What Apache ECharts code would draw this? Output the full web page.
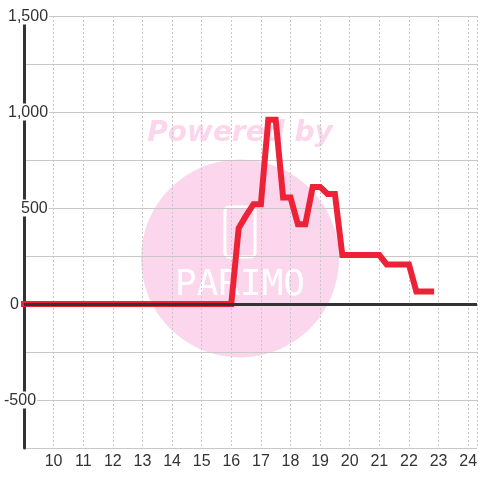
<!DOCTYPE html>
<html>
<head>
<meta charset="utf-8">
<script src="https://cdn.jsdelivr.net/npm/echarts@6/dist/echarts.min.js"></script>
<style>
html,body{margin:0;padding:0;background:#fff;}
#chart{width:480px;height:480px;}
</style>
</head>
<body>
<div id="chart"></div>
<script>
// Hours (x) and values (y)
const hours = [9, 9.25, 9.5, 9.75, 10, 10.25, 10.5, 10.75, 11, 11.25, 11.5, 11.75,
  12, 12.25, 12.5, 12.75, 13, 13.25, 13.5, 13.75, 14, 14.25, 14.5, 14.75,
  15, 15.25, 15.5, 15.75, 16, 16.25, 16.5, 16.75, 17, 17.25, 17.5, 17.75,
  18, 18.25, 18.5, 18.75, 19, 19.25, 19.5, 19.75, 20, 20.25, 20.5, 20.75,
  21, 21.25, 21.5, 21.75, 22, 22.25, 22.5, 22.75];
const values = [0, 0, 0, 0, 0, 0, 0, 0, 0, 0, 0, 0,
  0, 0, 0, 0, 0, 0, 0, 0, 0, 0, 0, 0,
  0, 0, 0, 0, 0, 395, 460, 520, 520, 960, 960, 555,
  555, 415, 415, 610, 610, 573, 573, 255, 255, 255, 255, 255,
  255, 206, 206, 206, 206, 65, 65, 65];
const yTickLabels = {1500: '1,500', 1000: '1,000', 500: '500', 0: '0', '-500': '-500'};
const watermarkText = 'Powered by';
const logoText = 'PARIMO';

const labelOffset = {1500: 4, 1000: 4, 500: 17, 0: 6, '-500': 0};
const FONT = 'Liberation Sans';

const chart = echarts.init(document.getElementById('chart'), null, {renderer: 'canvas'});
chart.setOption({
  animation: false,
  backgroundColor: '#ffffff',
  textStyle: {fontFamily: FONT},
  grid: {left: 21, right: 0, top: 16, bottom: 32, containLabel: false},
  graphic: [
    {type: 'circle', shape: {cx: 240, cy: 258.5, r: 99}, style: {fill: '#fbd6ec'}, z: -100, silent: true},
    {type: 'text', x: 240, y: 134, style: {text: watermarkText, fill: '#fbd6ec', font: 'italic bold 28px "DejaVu Sans"', textAlign: 'center', textVerticalAlign: 'middle'}, z: -100, silent: true},
    {type: 'rect', shape: {x: 225, y: 207, width: 30, height: 50, r: 4}, style: {fill: 'none', stroke: '#ffffff', lineWidth: 3}, z: -99, silent: true},
    {type: 'text', x: 240, y: 286, style: {text: logoText, fill: '#ffffff', font: '36px "DejaVu Sans Mono"', textAlign: 'center', textVerticalAlign: 'middle'}, z: -99, silent: true}
  ],
  xAxis: {
    type: 'value',
    min: 9,
    max: 24.3,
    interval: 1,
    axisLine: {show: false},
    axisTick: {show: false},
    axisLabel: {
      showMinLabel: false,
      showMaxLabel: false,
      margin: 6,
      color: '#333',
      fontSize: 16,
      fontFamily: FONT,
      formatter: function (v) { return Number.isInteger(v) ? String(v) : ''; }
    },
    splitLine: {show: true, lineStyle: {color: '#c8c8c8', width: 1, type: [2, 2]}}
  },
  yAxis: {
    type: 'value',
    min: -750,
    max: 1500,
    interval: 250,
    axisLine: {show: true, onZero: false, lineStyle: {color: '#333', width: 3}},
    axisTick: {show: false},
    axisLabel: {
      align: 'left',
      margin: 21,
      color: '#333',
      fontSize: 16,
      fontFamily: FONT,
      formatter: function (v) {
        const t = yTickLabels[v];
        if (t === undefined) return '';
        const off = labelOffset[v];
        return (off > 0 ? '{s' + off + '| }' : '') + '{t|' + t + '}';
      },
      rich: {
        s4: {width: 4, fontFamily: FONT, fontSize: 16},
        s6: {width: 6, fontFamily: FONT, fontSize: 16},
        s17: {width: 17, fontFamily: FONT, fontSize: 16},
        t: {backgroundColor: '#ffffff', padding: [1, 1, 0, 1], color: '#333', fontSize: 16, fontFamily: FONT}
      }
    },
    splitLine: {show: true, lineStyle: {color: '#c8c8c8', width: 1}}
  },
  series: [
    {
      type: 'line',
      z: 1,
      data: [],
      silent: true,
      markLine: {
        silent: true,
        symbol: 'none',
        label: {show: false},
        lineStyle: {color: '#333', width: 3, type: 'solid'},
        data: [{yAxis: 0}]
      }
    },
    {
      type: 'line',
      z: 3,
      clip: false,
      showSymbol: false,
      symbol: 'none',
      data: hours.map((h, i) => [h, values[i]]),
      lineStyle: {color: '#ee2236', width: 6, cap: 'square', join: 'miter'}
    }
  ]
});
</script>
</body>
</html>
